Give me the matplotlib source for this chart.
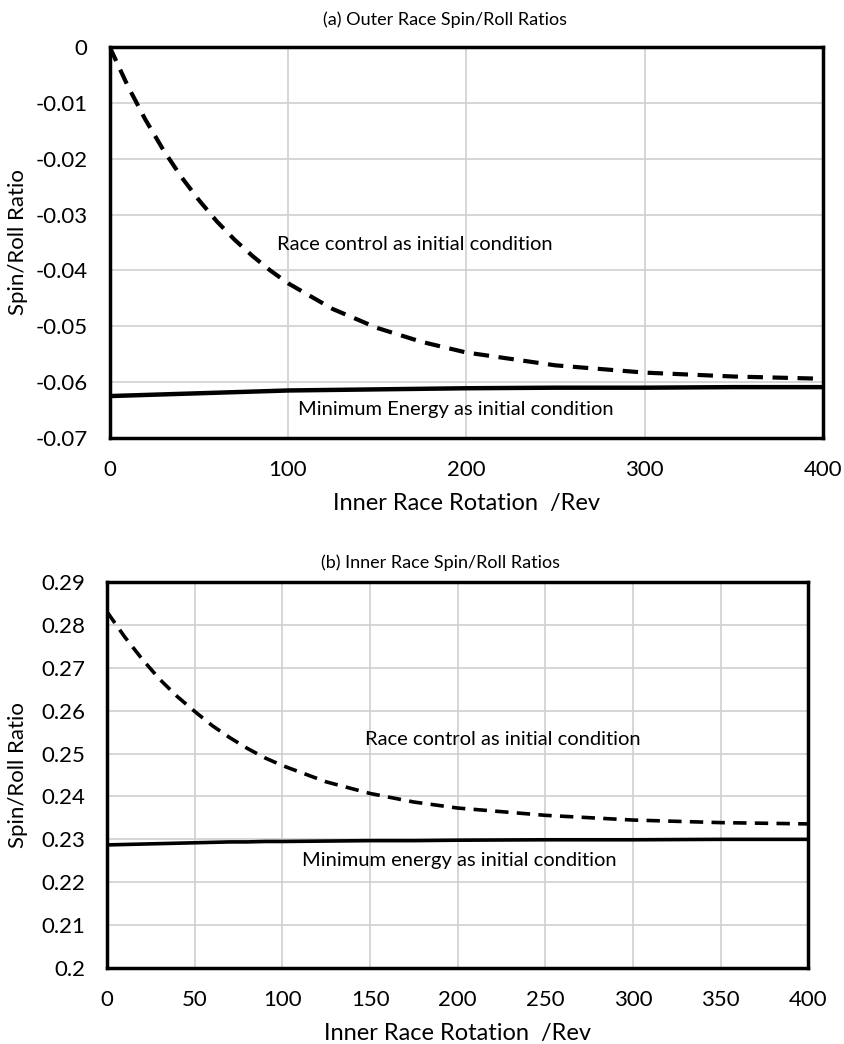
import matplotlib.pyplot as plt

# (a) outer race spin/roll ratio
rev_a = [0, 10, 20, 30, 40, 50, 60, 70, 80, 90, 100, 125, 150, 175, 200, 250, 300, 350, 400]
race_ctrl_a = [0, -0.0069, -0.0130, -0.0184, -0.0232, -0.0274, -0.0312, -0.0345, -0.0374, -0.0400,
               -0.0423, -0.0469, -0.0503, -0.0528, -0.0547, -0.0570, -0.0583, -0.0590, -0.0594]
min_energy_a = [-0.0625, -0.0624, -0.0623, -0.0622, -0.0621, -0.0620, -0.0619, -0.0618, -0.0617,
                -0.0616, -0.0615, -0.0614, -0.0613, -0.0612, -0.0611, -0.0610, -0.0610, -0.0609, -0.0609]

# (b) inner race spin/roll ratio
rev_b = [0, 10, 20, 30, 40, 50, 60, 70, 80, 90, 100, 125, 150, 175, 200, 250, 300, 350, 400]
race_ctrl_b = [0.2830, 0.2772, 0.2720, 0.2673, 0.2633, 0.2598, 0.2565, 0.2537, 0.2512, 0.2490,
               0.2472, 0.2434, 0.2407, 0.2387, 0.2373, 0.2356, 0.2345, 0.2339, 0.2336]
min_energy_b = [0.2287, 0.2288, 0.2289, 0.2290, 0.2291, 0.2292, 0.2293, 0.2294, 0.2294, 0.2295,
                0.2295, 0.2296, 0.2297, 0.2297, 0.2298, 0.2299, 0.2299, 0.2300, 0.2300]

plt.rcParams['font.family'] = ['Lato', 'DejaVu Sans']

fig = plt.figure(figsize=(8.44, 10.44), dpi=100)
ax1 = fig.add_axes([0.130, 0.5805, 0.845, 0.3745])
ax2 = fig.add_axes([0.127, 0.0728, 0.8306, 0.3697])


def style(ax, xstep, ylim, ystep, fmt, ylab_x):
    ax.set_xlim(0, 400)
    ax.set_ylim(*ylim)
    ax.set_xticks(range(0, 401, xstep))
    n = int(round((ylim[1] - ylim[0]) / ystep))
    yt = [ylim[0] + i * ystep for i in range(n + 1)]
    ax.set_yticks(yt)
    ax.set_yticklabels([fmt(v) for v in yt])
    ax.grid(True, color='#d0d0d0', linewidth=1.2)
    ax.set_axisbelow(True)
    for s in ax.spines.values():
        s.set_linewidth(2.5)
        s.set_color('black')
    ax.tick_params(length=0, labelsize=16)
    ax.tick_params(axis='x', pad=16)
    ax.tick_params(axis='y', pad=16)
    ax.set_xlabel('Inner Race Rotation  /Rev', fontsize=17, labelpad=9)
    ax.set_ylabel('Spin/Roll Ratio', fontsize=16)
    ax.yaxis.set_label_coords(ylab_x, 0.5)


def fmt_a(v):
    v = round(v, 2)
    return '0' if v == 0 else ('%g' % v)


def fmt_b(v):
    return '%g' % round(v, 2)


ax1.plot(rev_a, race_ctrl_a, color='black', linewidth=3, linestyle=(0, (3.7, 2.3)))
ax1.plot(rev_a, min_energy_a, color='black', linewidth=3.2)
style(ax1, 100, (-0.07, 0.0), 0.01, fmt_a, (28 - 110) / 713)
ax1.text(171, -0.0353, 'Race control as initial condition', fontsize=14.5, ha='center', va='center')
ax1.text(194, -0.0649, 'Minimum Energy as initial condition', fontsize=14.5, ha='center', va='center')

ax2.plot(rev_b, race_ctrl_b, color='black', linewidth=2.6, linestyle=(0, (3.7, 2.3)))
ax2.plot(rev_b, min_energy_b, color='black', linewidth=2.6)
style(ax2, 50, (0.2, 0.29), 0.01, fmt_b, (28 - 107) / 701)
ax2.text(226, 0.2532, 'Race control as initial condition', fontsize=14.5, ha='center', va='center')
ax2.text(201, 0.2250, 'Minimum energy as initial condition', fontsize=14.5, ha='center', va='center')

fig.text(445 / 844, 1 - 20 / 1044, '(a) Outer Race Spin/Roll Ratios', fontsize=13, ha='center', va='center')
fig.text(440 / 844, 1 - 563 / 1044, '(b) Inner Race Spin/Roll Ratios', fontsize=13, ha='center', va='center')

fig.savefig('out.png', dpi=100)
